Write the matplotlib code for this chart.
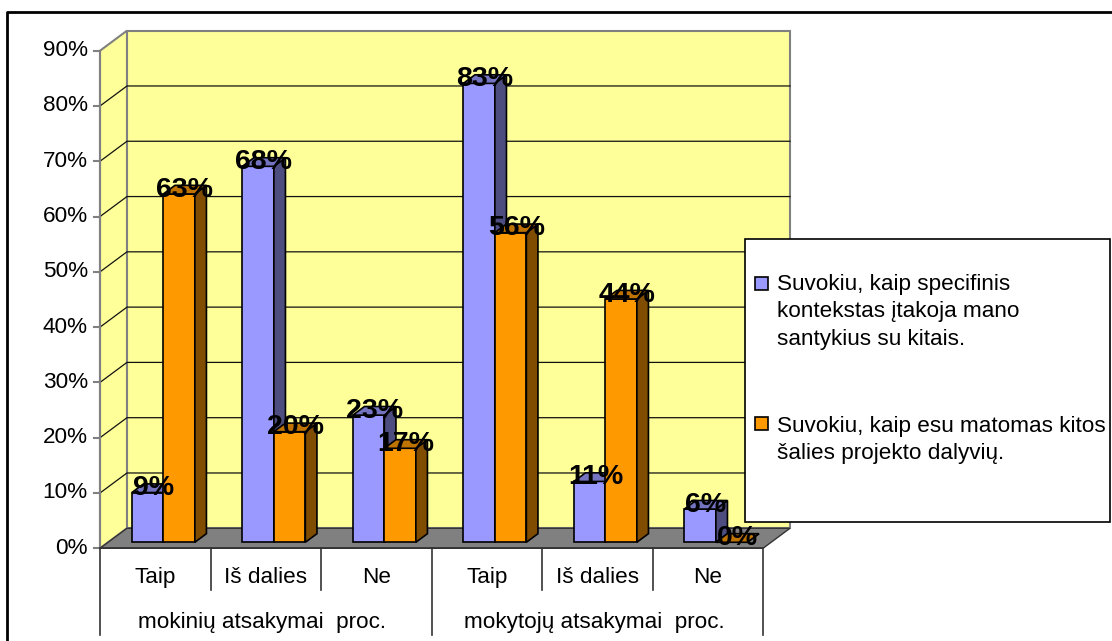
import matplotlib
matplotlib.use('Agg')
from matplotlib import pyplot as plt
from matplotlib.patches import Polygon, Rectangle
from matplotlib.lines import Line2D

# data
categories = ['Taip', 'Iš dalies', 'Ne', 'Taip', 'Iš dalies', 'Ne']
groups = ['mokinių atsakymai  proc.', 'mokytojų atsakymai  proc.']
series_names = ['Suvokiu, kaip specifinis\nkontekstas įtakoja mano\nsantykius su kitais.',
                'Suvokiu, kaip esu matomas kitos\nšalies projekto dalyvių.']
context_vals = [9, 68, 23, 83, 11, 6]
seen_vals = [63, 20, 17, 56, 44, 0]
yticks = [0, 10, 20, 30, 40, 50, 60, 70, 80, 90]

plt.rcParams['font.family'] = ['Liberation Sans', 'DejaVu Sans']

W, H = 1112, 641
fig = plt.figure(figsize=(W / 100, H / 100), dpi=100)
ax = fig.add_axes([0, 0, 1, 1])
ax.set_xlim(-0.905, 9.158)
ax.set_ylim(-16.77, 99.17)
ax.axis('off')

DX, DY = 0.244, 3.62      # depth of the floor in data units
F1, F2 = 0.3, 0.73        # front / back of the bars along the depth
BW = 0.285
YMAX = yticks[-1]
n = len(categories)
FS = 16.2

# (front, side, top) colours of each series
series = [(context_vals, ('#9999FF', '#4D4D80', '#7373BF')),
          (seen_vals, ('#FF9900', '#804D00', '#BF7300'))]


def poly(pts, fc, ec, lw=1.0, z=1):
    ax.add_patch(Polygon(pts, closed=True, facecolor=fc, edgecolor=ec,
                         linewidth=lw, zorder=z, joinstyle='miter'))


# walls
poly([(DX, DY), (n + DX, DY), (n + DX, YMAX + DY), (DX, YMAX + DY)], '#FFFF99', '#808080', 1.5)
poly([(0, 0), (DX, DY), (DX, YMAX + DY), (0, YMAX)], '#FFFF99', '#808080', 1.5)
for v in yticks[1:-1]:
    ax.plot([0, DX, n + DX], [v, v + DY, v + DY], color='#111111', lw=0.9, zorder=2)
# floor
poly([(0, 0), (n, 0), (n + DX, DY), (DX, DY)], '#808080', '#333333', 1.0, 3)

# value axis
ax.plot([0, 0], [0, YMAX], color='#808080', lw=1.5, zorder=3)
for v in yticks:
    ax.plot([-0.055, 0], [v, v], color='#808080', lw=1.5, zorder=3)
    ax.text(-0.11, v, f'{v}%', ha='right', va='center', fontsize=FS)

# bars
for i in range(n):
    for s, (vals, (c_front, c_side, c_top)) in enumerate(series):
        v = vals[i]
        x0 = i + 0.5 - BW + s * BW
        x1 = x0 + BW
        a0, a1 = F1 * DX, F2 * DX
        b0, b1 = F1 * DY, F2 * DY
        poly([(x0 + a0, b0), (x1 + a0, b0), (x1 + a0, v + b0), (x0 + a0, v + b0)], c_front, 'black', 1.2, 4)
        poly([(x1 + a0, b0), (x1 + a1, b1), (x1 + a1, v + b1), (x1 + a0, v + b0)], c_side, 'black', 1.2, 4)
        poly([(x0 + a0, v + b0), (x1 + a0, v + b0), (x1 + a1, v + b1), (x0 + a1, v + b1)], c_top, 'black', 1.2, 4)

# data labels on top of everything
for i in range(n):
    for s, (vals, _) in enumerate(series):
        v = vals[i]
        xc = i + 0.5 - BW + s * BW + BW / 2 + (F1 + F2) / 2 * DX
        ax.text(xc, v + (F1 + F2) / 2 * DY, f'{v}%', ha='center', va='center',
                fontsize=20.5, fontweight='bold', zorder=10)

# category table
ax.plot([0, n], [0, 0], color='#333333', lw=1.2, zorder=5)
for k in range(n + 1):
    bottom = -15.68 if k % 3 == 0 else -7.54
    ax.plot([k, k], [0, bottom], color='#333333', lw=1.2, zorder=5)
for i, c in enumerate(categories):
    ax.text(i + 0.5, -6.35, c, ha='center', va='baseline', fontsize=FS)
for g, name in enumerate(groups):
    ax.text(g * 3 + 1.47, -14.4, name, ha='center', va='baseline', fontsize=FS)

# legend (pixel layout)
def fx(px):
    return px / W


def fy(py):
    return 1 - py / H


fig.patches.append(Rectangle((fx(745), fy(522)), fx(1110) - fx(745), fy(239) - fy(522),
                             transform=fig.transFigure, facecolor='white',
                             edgecolor='black', lw=1.2, zorder=20))
legend_rows = [(277, 290), (417, 431.7)]
for (sq_top, base), (_, (c_front, _, _)), name in zip(legend_rows, series, series_names):
    fig.patches.append(Rectangle((fx(755), fy(sq_top + 13)), fx(13), fy(0) - fy(13),
                                 transform=fig.transFigure, facecolor=c_front,
                                 edgecolor='black', lw=1.2, zorder=21))
    for j, line in enumerate(name.split('\n')):
        fig.text(fx(777), fy(base + j * 27.5), line, ha='left', va='baseline',
                 fontsize=FS, zorder=22)

# outer chart border
fig.lines.append(Line2D([fx(7), fx(7), fx(1112)], [fy(641), fy(12), fy(12)],
                        transform=fig.transFigure, color='black', lw=2))

plt.savefig('out.png', dpi=100)
plt.close()
